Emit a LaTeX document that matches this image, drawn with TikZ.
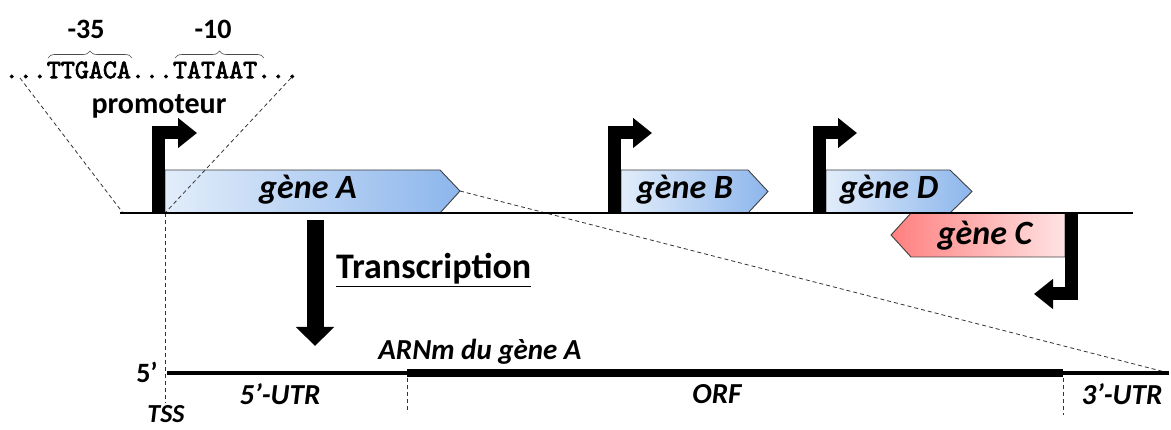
\documentclass[tikz,border=0pt]{standalone}
\usepackage{fontspec}
\setmainfont{Carlito}
\newfontfamily\seqfont[FakeBold=2.5]{lmmono10-regular.otf}
\usetikzlibrary{arrows.meta,decorations.pathreplacing}
\definecolor{blueL}{HTML}{E2EDFA}
\definecolor{blueR}{HTML}{8DB6EC}
\definecolor{redL}{HTML}{FF7F7F}
\definecolor{redR}{HTML}{FFE3E3}
\definecolor{edge}{HTML}{404040}
\tikzset{
  genebox/.style={draw=edge, line width=0.9pt},
  bluegene/.style={genebox, left color=blueL, right color=blueR},
  redgene/.style={genebox, left color=redL, right color=redR},
  promarrow/.style={line width=13pt, line join=miter, -{Triangle[width=29pt,length=19pt]}},
  genelabel/.style={font=\fontsize{34}{38}\selectfont\bfseries\itshape, inner sep=0pt},
  lab/.style={font=\fontsize{29}{32}\selectfont\bfseries\itshape, inner sep=0pt},
  guide/.style={dashed, dash pattern=on 4pt off 3pt, line width=0.8pt, black!80},
}
\begin{document}
\begin{tikzpicture}[x=1pt,y=-1pt]
\useasboundingbox (0,0) rectangle (1171,430);

% sequence and braces
\node[inner sep=0pt, anchor=center, font=\fontsize{26.7}{28}\selectfont\seqfont] (seq) at (152,70) {...TTGACA...TATAAT...};
\coordinate (b35l) at (48,58); \coordinate (b35r) at (132,58);
\coordinate (b10l) at (175,58); \coordinate (b10r) at (264,58);
\draw[decorate, decoration={brace, amplitude=7pt}, line width=0.6pt, black!70] (b35l) -- (b35r);
\draw[decorate, decoration={brace, amplitude=7pt}, line width=0.6pt, black!70] (b10l) -- (b10r);
\node[inner sep=0pt, font=\fontsize{28}{30}\selectfont\bfseries] (m35) at (86,29) {-35};
\node[inner sep=0pt, font=\fontsize{28}{30}\selectfont\bfseries] (m10) at (213,29) {-10};
\node[inner sep=0pt, font=\fontsize{30}{32}\selectfont\bfseries] (prom) at (159,106) {promoteur};

% coordinates
\coordinate (zl) at (20,78);
\coordinate (zr) at (291,78);
\coordinate (bl) at (123,213);
\coordinate (tss) at (165,213);
\coordinate (tssb) at (165,403);
\coordinate (atip) at (460,191);
\coordinate (mstart) at (167,373);
\coordinate (m1) at (407,373);
\coordinate (m2) at (1063,373);
\coordinate (mend) at (1169,373);

% genes
\draw[bluegene] (165,170) -- (440,170) -- (atip) -- (440,213) -- (165,213) -- cycle;
\draw[bluegene] (621,170) -- (748,170) -- (768,191.5) -- (748,213) -- (621,213) -- cycle;
\draw[bluegene] (826,170) -- (950,170) -- (972,191.5) -- (950,213) -- (826,213) -- cycle;
\draw[redgene] (1065,213) -- (911,213) -- (891,235) -- (911,257) -- (1065,257) -- cycle;
\node[genelabel] (ga) at (308,190) {gène A};
\node[genelabel] (gb) at (685,190) {gène B};
\node[genelabel] (gd) at (889,190) {gène D};
\node[genelabel] (gc) at (985,236) {gène C};

% dashed guides
\draw[guide] (zl) -- (bl);
\draw[guide] (zr) -- (tss);
\draw[guide] (tss) -- (tssb);
\draw[guide] (atip) -- (mend);
\draw[guide] (407,378) -- (407,413);
\draw[guide] (1063,378) -- (1063,415);

% baseline
\draw[line width=1.3pt] (120,213) -- (1133,213);

% promoter arrows
\draw[promarrow] (158.5,213) |- (197,133);
\draw[promarrow] (614,213) |- (652,133);
\draw[promarrow] (819,213) |- (857,133);
\draw[promarrow] (1071.5,213) |- (1034,294);

% transcription
\draw[line width=17pt, -{Triangle[width=37pt,length=19pt]}] (315,220) -- (315,346);
\node[inner sep=0pt, anchor=west, font=\fontsize{36}{40}\selectfont\bfseries] (tr) at (336,270) {\underline{Transcription}};

% mRNA
\draw[line width=4pt] (mstart) -- (m1);
\draw[line width=8.5pt] (m1) -- (m2);
\draw[line width=4pt] (m2) -- (mend);
\node[inner sep=0pt, font=\fontsize{28}{30}\selectfont\bfseries] (five) at (147,372) {5’};
\node[lab] (arnm) at (480,352) {ARNm du gène A};
\node[inner sep=0pt, anchor=base, font=\fontsize{26}{28}\selectfont\bfseries\itshape] (tssl) at (166,423) {TSS};
\node[lab] (utr5) at (280,394) {5’-UTR};
\node[lab] (orf) at (717,394) {ORF};
\node[lab] (utr3) at (1122,394) {3’-UTR};
\end{tikzpicture}
\end{document}
